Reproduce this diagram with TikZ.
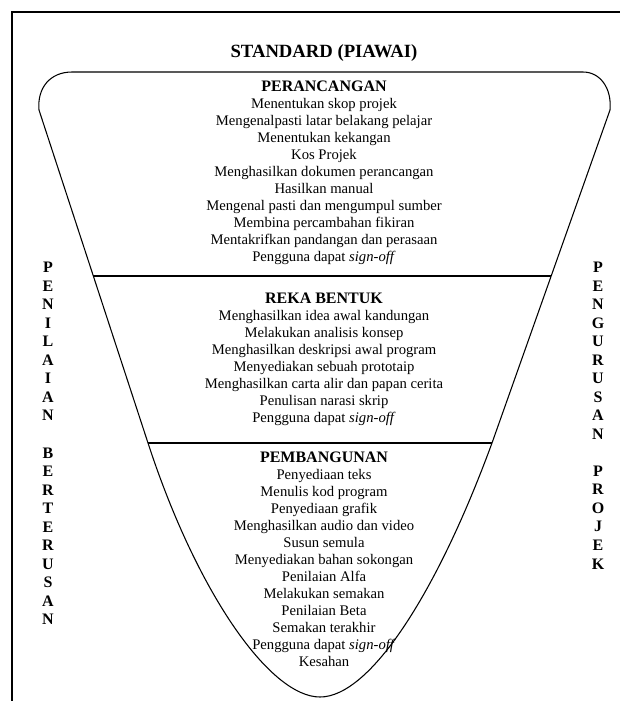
\documentclass[tikz,border=0pt]{standalone}
\usepackage{fontspec}
\setmainfont{Liberation Serif}
\newcommand{\phase}[1]{{\fontsize{12}{12.75}\selectfont\bfseries #1}}

\begin{document}
\begin{tikzpicture}[x=0.75pt,y=-0.75pt,
  item/.style={align=center,font=\fontsize{11}{12.75}\selectfont},
  letters/.style={align=center,font=\fontsize{12}{13.9}\selectfont\bfseries},
  rim/.style={line width=0.8pt,line join=round}]

\useasboundingbox (0,0) rectangle (620,701);

% frame
\draw[line width=1.2pt] (620,12) -- (12,12) -- (12,701);

% funnel outline
\coordinate (topl) at (72,72);
\coordinate (topr) at (583,72);
\coordinate (sider) at (610,110);
\coordinate (sidel) at (39,110);
\coordinate (lowr) at (492,443);
\coordinate (lowl) at (148,443);
\coordinate (tip) at (320,697);

\draw[rim] (topl) -- (topr) .. controls (600,72) and (612,88) .. (sider)
  -- (lowr) .. controls (437,593) and (370,697) .. (tip)
  .. controls (270,697) and (197,593) .. (lowl) -- (sidel)
  .. controls (37,88) and (50,72) .. (topl);

% dividers
\coordinate (midl) at (93.3,276);
\coordinate (midr) at (551.2,276);
\draw[rim] (midl) -- (midr);
\draw[rim] (lowl) -- (lowr);

\node[font=\fontsize{14}{16}\selectfont\bfseries] (title) at (324,53) {STANDARD (PIAWAI)};

\node[item] (rancang) at (324,173) {\phase{PERANCANGAN}\\
  Menentukan skop projek\\
  Mengenalpasti latar belakang pelajar\\
  Menentukan kekangan\\
  Kos Projek\\
  Menghasilkan dokumen perancangan\\
  Hasilkan manual\\
  Mengenal pasti dan mengumpul sumber\\
  Membina percambahan fikiran\\
  Mentakrifkan pandangan dan perasaan\\
  Pengguna dapat \textit{sign-off}};

\node[item] (reka) at (324,359.5) {\phase{REKA BENTUK}\\
  Menghasilkan idea awal kandungan\\
  Melakukan analisis konsep\\
  Menghasilkan deskripsi awal program\\
  Menyediakan sebuah prototaip\\
  Menghasilkan carta alir dan papan cerita\\
  Penulisan narasi skrip\\
  Pengguna dapat \textit{sign-off}};

\node[item] (bangun) at (324,559.5) {\phase{PEMBANGUNAN}\\
  Penyediaan teks\\
  Menulis kod program\\
  Penyediaan grafik\\
  Menghasilkan audio dan video\\
  Susun semula\\
  Menyediakan bahan sokongan\\
  Penilaian Alfa\\
  Melakukan semakan\\
  Penilaian Beta\\
  Semakan terakhir\\
  Pengguna dapat \textit{sign-off}\\
  Kesahan};

\node[letters] (nilai) at (48,443.5) {P\\E\\N\\I\\L\\A\\I\\A\\N\\~\\B\\E\\R\\T\\E\\R\\U\\S\\A\\N};

\node[letters] (urus) at (598,415.5) {P\\E\\N\\G\\U\\R\\U\\S\\A\\N\\~\\P\\R\\O\\J\\E\\K};

\end{tikzpicture}
\end{document}
